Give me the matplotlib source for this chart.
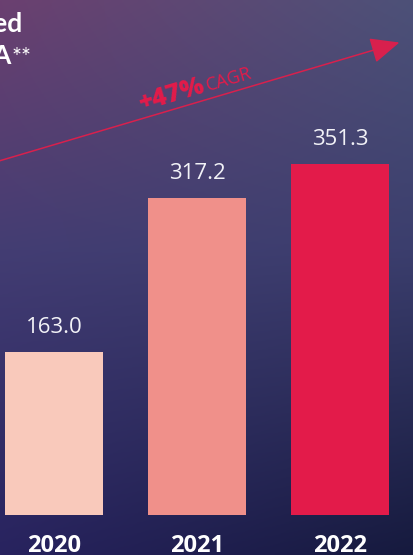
import numpy as np
import matplotlib
matplotlib.use("Agg")
import matplotlib.pyplot as plt
from matplotlib.patches import FancyArrowPatch

years = ["2020", "2021", "2022"]
values = [163.0, 317.2, 351.3]
bar_colors = ["#f9c9bb", "#f0908a", "#e31b4a"]
cagr_bold = "+47%"
cagr_text = "CAGR"
title_lines = ["Adjusted", "EBITDA", "**"]

plt.rcParams["font.family"] = ["Open Sans", "DejaVu Sans"]

fig = plt.figure(figsize=(4.13, 5.55), dpi=100)
ax = fig.add_axes([0, 0, 1, 1])
ax.set_xlim(-54 / 143, (413 - 54) / 143)
ax.set_ylim(-40, 515)
ax.axis("off")

# background gradient (rows top -> bottom, left and right edge colours)
def hex2rgb(h):
    h = h.lstrip("#")
    return np.array([int(h[i:i + 2], 16) / 255 for i in (0, 2, 4)])

stops = [0.0, 0.45, 1.0]
left = [hex2rgb(c) for c in ["#6b4070", "#433d73", "#28235f"]]
right = [hex2rgb(c) for c in ["#4d5178", "#3b3e6d", "#161a3e"]]
H, W = 200, 150
ty = np.linspace(0, 1, H)
lcol = np.stack([np.interp(ty, stops, [c[k] for c in left]) for k in range(3)], axis=1)
rcol = np.stack([np.interp(ty, stops, [c[k] for c in right]) for k in range(3)], axis=1)
tx = np.linspace(0, 1, W)[None, :, None]
grad = lcol[:, None, :] * (1 - tx) + rcol[:, None, :] * tx
ax.imshow(grad, extent=[*ax.get_xlim(), *ax.get_ylim()], aspect="auto", zorder=0)

x = np.arange(len(years))
ax.bar(x, values, width=0.685, color=bar_colors, zorder=2)

for xi, v in zip(x, values):
    ax.annotate(f"{v:.1f}", (xi, v), xytext=(0, 13.7), textcoords="offset points",
                ha="center", va="baseline", color="#f2f2f7", fontsize=16, zorder=3)
    ax.text(xi, -37, years[xi], ha="center", va="baseline", color="white",
            fontsize=17, fontweight="bold", zorder=3)

# growth arrow
red = "#d8204d"
arrow = FancyArrowPatch((-0.517, 348.4), (2.434, 473.3), arrowstyle="-|>,head_length=18,head_width=8",
                        mutation_scale=1, color=red, lw=1.1, zorder=3)
ax.add_patch(arrow)
ang = 16.4
jx, jy = (206 - 54) / 143, 515 - 92
ax.text(jx, jy, cagr_bold, rotation=ang, rotation_mode="anchor", ha="right", va="baseline",
        color="#e31b4a", fontsize=18, fontweight="heavy", zorder=3)
ax.text(jx + 2 / 143, jy + 0.6, cagr_text, rotation=ang, rotation_mode="anchor", ha="left",
        va="baseline", color="#e31b4a", fontsize=13, zorder=3)

# title, cut off at the left edge
tfam = ["Lato", "DejaVu Sans"]
ax.text((22 - 54) / 143, 515 - 32.5, title_lines[0], ha="right", va="baseline",
        color="white", fontsize=19, fontweight="bold", family=tfam, zorder=3)
ax.text((12 - 54) / 143, 515 - 64, title_lines[1], ha="right", va="baseline",
        color="white", fontsize=19, fontweight="bold", family=tfam, zorder=3)
ax.text((12 - 54) / 143, 515 - 64, title_lines[2], ha="left", va="baseline",
        color="white", fontsize=17, fontweight="normal", family=tfam, zorder=3)

plt.savefig("out.png", dpi=100)
plt.close("all")
